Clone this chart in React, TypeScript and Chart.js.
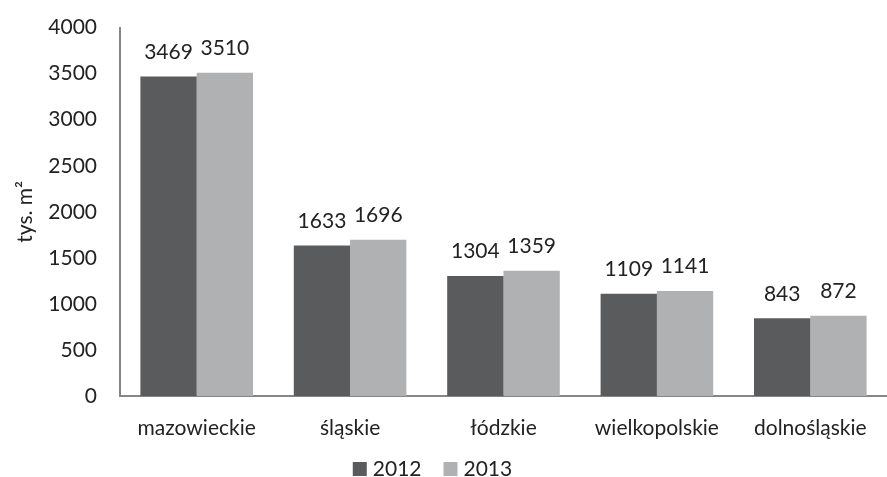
import React, { useEffect, useRef } from "react";
import { Chart, registerables } from "chart.js";

Chart.register(...registerables);

const categories = ["mazowieckie", "śląskie", "łódzkie", "wielkopolskie", "dolnośląskie"];
const series2012 = [3469, 1633, 1304, 1109, 843];
const series2013 = [3510, 1696, 1359, 1141, 872];
const seriesNames = ["2012", "2013"];

const FONT = "Lato, 'Open Sans', sans-serif";
const FS = 21;
const TEXT = "#222";

const valueLabels = {
  id: "valueLabels",
  afterDatasetsDraw(chart: any) {
    const ctx = chart.ctx;
    ctx.save();
    ctx.fillStyle = TEXT;
    ctx.font = `${FS}px ${FONT}`;
    ctx.textAlign = "center";
    ctx.textBaseline = "bottom";
    chart.data.datasets.forEach((ds: any, i: number) => {
      const meta = chart.getDatasetMeta(i);
      meta.data.forEach((bar: any, j: number) => {
        ctx.fillText(String(ds.data[j]), bar.x, bar.y - 14);
      });
    });
    ctx.restore();
  },
};

const bottomLegend = {
  id: "bottomLegend",
  afterDraw(chart: any) {
    const ctx = chart.ctx;
    ctx.save();
    ctx.font = `${FS}px ${FONT}`;
    ctx.textBaseline = "middle";
    ctx.textAlign = "left";
    const box = 14;
    const boxGap = 6;
    const itemGap = 22;
    const items = chart.data.datasets.map((ds: any) => ({
      label: ds.label,
      color: ds.backgroundColor,
      w: box + boxGap + ctx.measureText(ds.label).width,
    }));
    const total = items.reduce((s: number, it: any) => s + it.w, 0) + itemGap * (items.length - 1);
    let x = chart.width / 2 - 11 - total / 2;
    const y = 469;
    items.forEach((it: any) => {
      ctx.fillStyle = it.color;
      ctx.fillRect(x, y - box / 2, box, box);
      ctx.fillStyle = TEXT;
      ctx.fillText(it.label, x + box + boxGap, y);
      x += it.w + itemGap;
    });
    ctx.restore();
  },
};

export default function App() {
  const ref = useRef<HTMLCanvasElement>(null);
  useEffect(() => {
    const chart = new Chart(ref.current!, {
      type: "bar",
      data: {
        labels: categories,
        datasets: [
          { label: seriesNames[0], data: series2012, backgroundColor: "#5a5b5d" },
          { label: seriesNames[1], data: series2013, backgroundColor: "#b0b1b3" },
        ],
      },
      options: {
        animation: false,
        responsive: true,
        maintainAspectRatio: false,
        layout: { padding: { top: -11.6, right: 0, left: 4, bottom: 25 } },
        datasets: { bar: { barPercentage: 1, categoryPercentage: 0.734 } },
        plugins: {
          tooltip: { enabled: false },
          legend: { display: false },
        },
        scales: {
          x: {
            grid: { display: false },
            border: { display: true, color: "#868686", width: 2 },
            ticks: { color: TEXT, font: { family: FONT, size: FS }, padding: 12 },
            afterFit: (scale: any) => {
              scale.height = 56;
            },
          },
          y: {
            min: 0,
            max: 4000,
            grid: { display: false },
            border: { display: true, color: "#868686", width: 2 },
            ticks: {
              stepSize: 500,
              color: TEXT,
              font: { family: FONT, size: FS },
              padding: 15,
              callback: (v: any) => String(v),
            },
            afterFit: (scale: any) => {
              scale.width = 116;
            },
            title: {
              display: true,
              text: "tys. m²",
              color: TEXT,
              font: { family: FONT, size: FS },
              padding: { top: 9, bottom: 0 },
            },
          },
        },
      },
      plugins: [valueLabels, bottomLegend],
    });
    return () => chart.destroy();
  }, []);
  return (
    <div style={{ position: "fixed", inset: 0, background: "#fff" }}>
      <canvas ref={ref} />
    </div>
  );
}
